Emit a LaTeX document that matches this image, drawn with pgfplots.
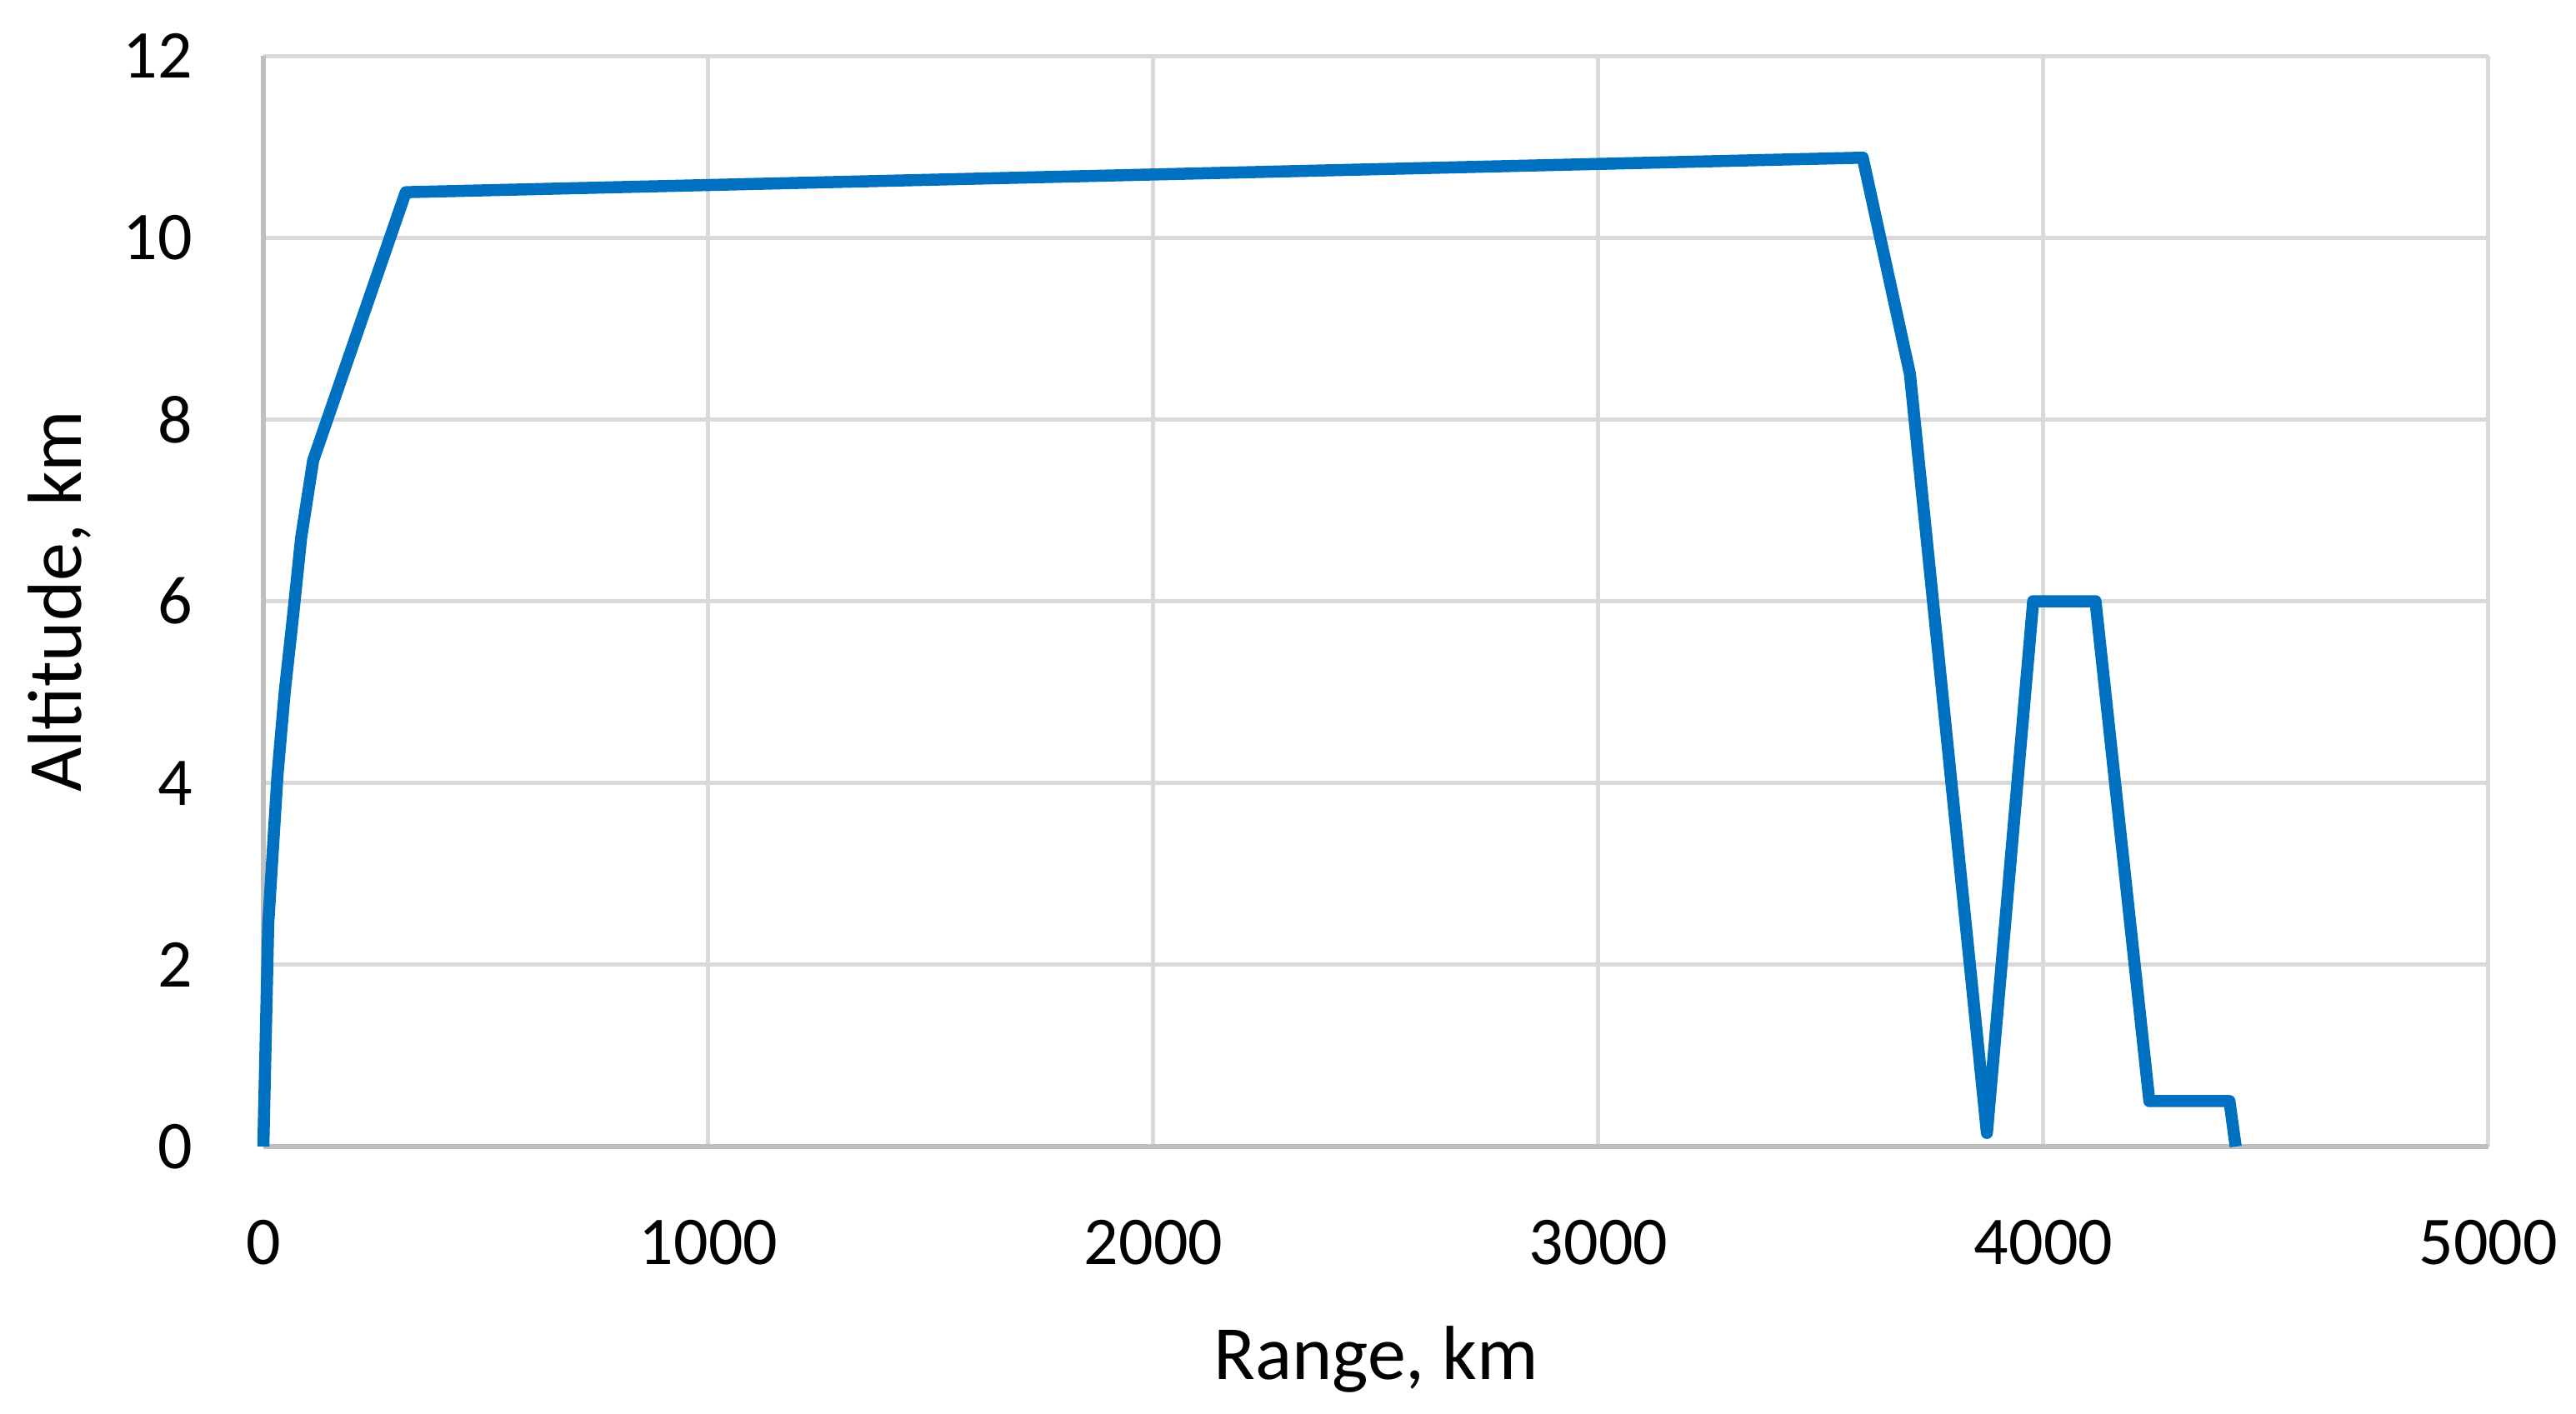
\documentclass[border=0pt]{standalone}
\usepackage{pgfplots}
\pgfplotsset{compat=1.18}
\usepackage{fontspec}
\setmainfont{Carlito}

\definecolor{lineblue}{HTML}{0070C0}
\definecolor{gridgray}{HTML}{D9D9D9}
\definecolor{axisgray}{HTML}{BFBFBF}

\begin{document}
\begin{tikzpicture}
  \begin{axis}[
      width=267pt, height=130.9pt,
      scale only axis,
      xmin=0, xmax=5000,
      ymin=0, ymax=12,
      xtick={0,1000,...,5000},
      ytick={0,2,...,12},
      scaled x ticks=false,
      /pgf/number format/1000 sep={},
      /pgf/number format/assume math mode=true,
      major tick length=0pt,
      grid=major,
      major grid style={draw=gridgray, line width=0.5pt},
      axis x line*=bottom,
      axis y line*=left,
      axis line style={draw=axisgray, line width=0.55pt, -},
      tick label style={font=\fontsize{8.2}{9.8}\selectfont, inner sep=0pt, text=black},
      xticklabel style={anchor=north, yshift=-8.6pt},
      yticklabel style={anchor=east, xshift=-8.3pt},
      label style={font=\fontsize{9.2}{11}\selectfont, inner sep=0pt},
      xlabel={Range, km},
      ylabel={Altitude, km},
      xlabel style={at={(axis description cs:0.5,-0.1635)}, anchor=north},
      ylabel style={at={(axis description cs:-0.1064,0.5)}, rotate=0, anchor=north},
      clip=false,
    ]
    % altitude profile
    \addplot[color=lineblue, line width=1.45pt, line join=round] coordinates {
      (0,0) (11,2.45) (32,4.1) (48,5.0) (67,5.85) (85,6.7) (112,7.55)
      (320,10.5) (3594,10.88) (3700,8.5) (3873,0.15) (3977,6.0)
      (4117,6.0) (4238,0.5) (4418,0.5) (4432,0)
    };
  \end{axis}
  \pgfresetboundingbox
  \path[use as bounding box] (-31.6pt,-32pt) rectangle (277.5pt,137.6pt);
\end{tikzpicture}
\end{document}
